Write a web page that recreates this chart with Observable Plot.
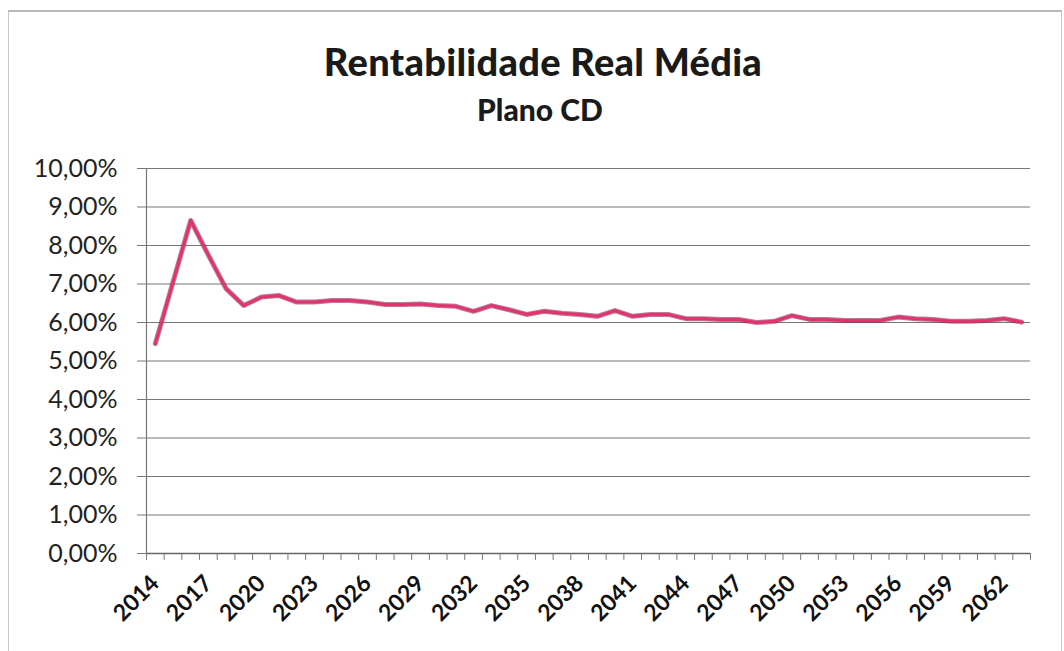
<!DOCTYPE html>
<html>
<head>
<meta charset="utf-8">
<script src="https://cdn.jsdelivr.net/npm/d3@7"></script>
<script src="https://cdn.jsdelivr.net/npm/@observablehq/plot@0.6"></script>
<style>
  html, body { margin: 0; padding: 0; background: #fff; }
  body { width: 1064px; height: 651px; position: relative; overflow: hidden; font-family: Lato, "Open Sans", sans-serif; }
  #frame { position: absolute; left: 8px; top: 10px; width: 1052px; height: 660px; border-top: 2px solid #b8b8b8; border-left: 1px solid #c8c8c8; border-right: 1px solid #c8c8c8; }
  #title { position: absolute; left: 0; width: 1086px; top: 38px; text-align: center; font-weight: 900; font-size: 38px; color: #1a1a1a; letter-spacing: 0.3px; }
  #subtitle { position: absolute; left: 0; width: 1080px; top: 91px; text-align: center; font-weight: 900; font-size: 30px; color: #1a1a1a; }
  #chart { position: absolute; left: 0; top: 140px; }
</style>
</head>
<body>
<div id="frame"></div>
<div id="title">Rentabilidade Real Média</div>
<div id="subtitle">Plano CD</div>
<div id="chart"></div>
<script>
const years = d3.range(2014, 2064);
const values = [
  5.45, 7.05, 8.65, 7.75, 6.88, 6.44, 6.66, 6.70, 6.53, 6.53,
  6.57, 6.57, 6.53, 6.47, 6.47, 6.48, 6.44, 6.42, 6.29, 6.44,
  6.33, 6.21, 6.29, 6.24, 6.21, 6.16, 6.31, 6.16, 6.21, 6.21,
  6.10, 6.10, 6.08, 6.08, 6.00, 6.03, 6.18, 6.08, 6.08, 6.05,
  6.05, 6.05, 6.14, 6.10, 6.08, 6.03, 6.03, 6.05, 6.10, 6.01
];
const xTickLabels = d3.range(2014, 2063, 3);
const yTicks = d3.range(0, 11, 1);

const data = years.map((year, i) => ({year, value: values[i]}));
const boundaries = years.map(y => y - 0.5).concat([years[years.length - 1] + 0.5]);

const chart = Plot.plot({
  width: 1064,
  height: 511,
  marginTop: 28,
  marginBottom: 98,
  marginLeft: 146,
  marginRight: 34,
  style: { fontFamily: "Lato, 'Open Sans', sans-serif", background: "transparent", overflow: "visible" },
  x: { type: "linear", domain: [years[0] - 0.5, years[years.length - 1] + 0.5], label: null },
  y: { domain: [0, 10], label: null },
  marks: [
    Plot.gridY(yTicks, { stroke: "#777", strokeOpacity: 1, strokeWidth: 1.2 }),
    Plot.ruleX([years[0] - 0.5], { y1: 0, y2: 10, stroke: "#777", strokeWidth: 1.2 }),
    Plot.ruleY([0], { stroke: "#666", strokeWidth: 1.5 }),
    Plot.ruleX(boundaries, { y1: 0, y2: -0.18, stroke: "#777", strokeWidth: 1 }),
    Plot.axisY(yTicks, {
      label: null, tickSize: 9, tickPadding: 20, fontSize: 25, color: "#222", stroke: "#777",
      tickFormat: d => d.toFixed(2).replace(".", ",") + "%"
    }),
    Plot.axisX(xTickLabels, {
      label: null, tickSize: 0, tickPadding: 26, tickRotate: -45, fontSize: 23, fontWeight: "bold", color: "#111",
      tickFormat: d => String(d)
    }),
    Plot.lineY(data, { x: "year", y: "value", stroke: "#8a2a55", strokeWidth: 5, strokeOpacity: 0.6 }),
    Plot.lineY(data, { x: "year", y: "value", stroke: "#e0336f", strokeWidth: 3 })
  ]
});
document.getElementById("chart").appendChild(chart);
</script>
</body>
</html>
